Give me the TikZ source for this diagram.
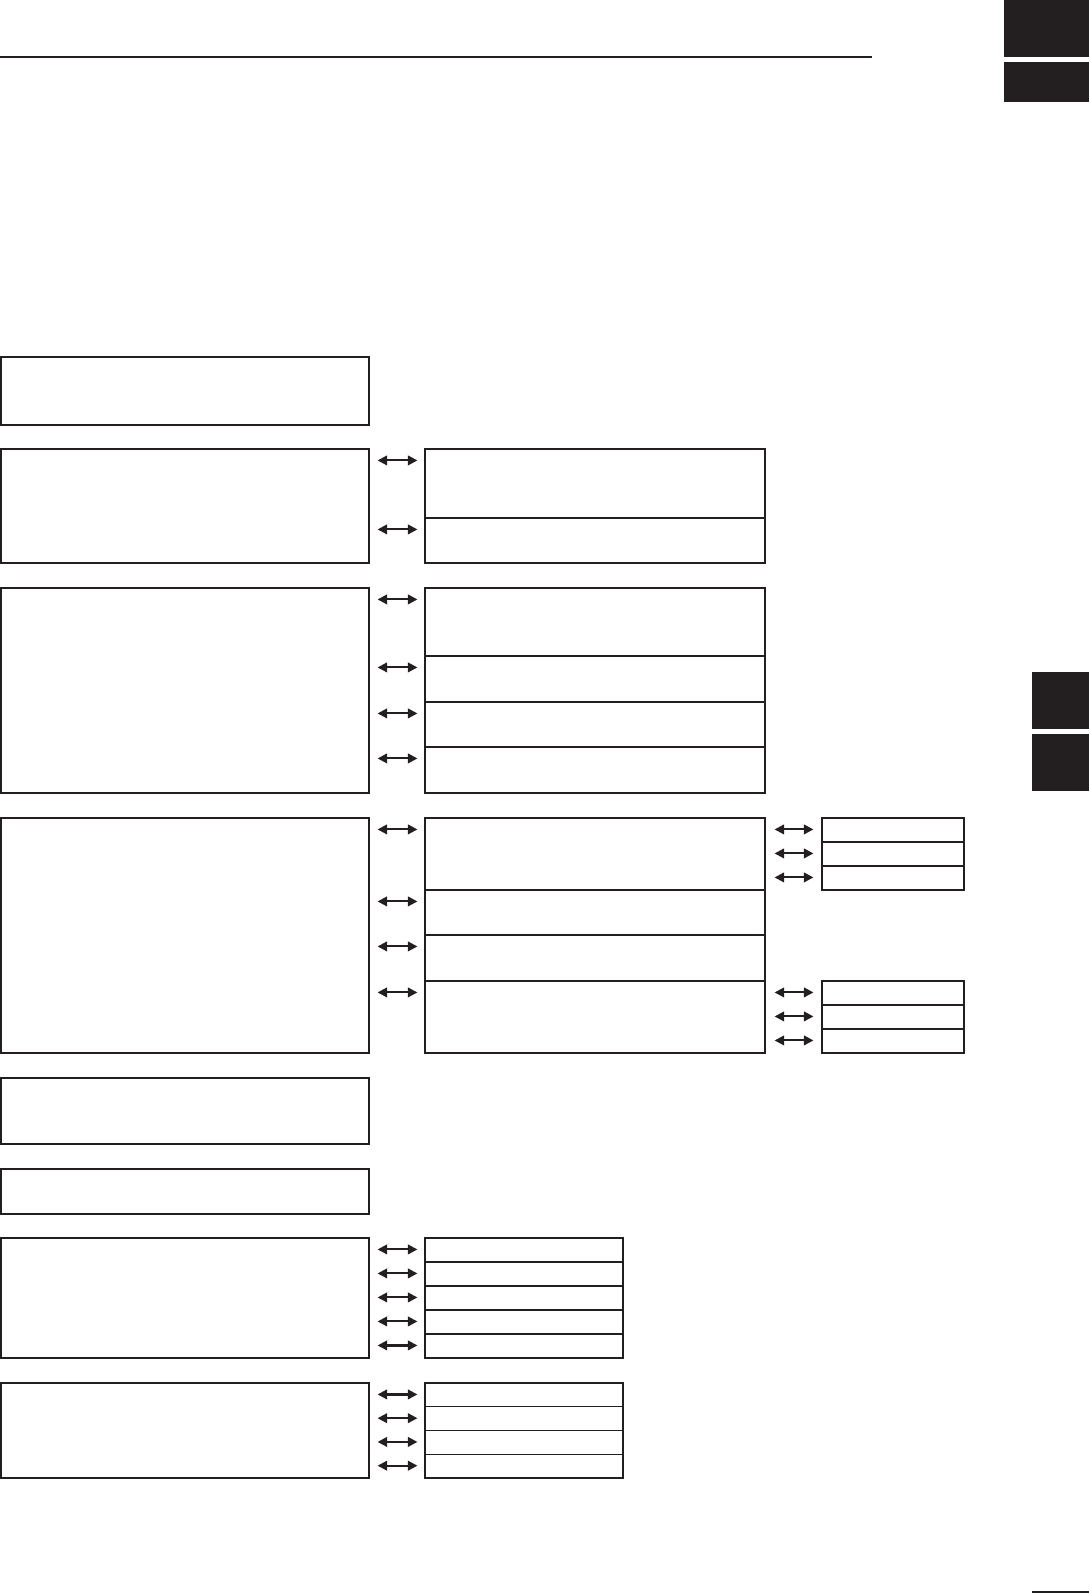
\documentclass[tikz,border=0pt]{standalone}
\usepackage{tikz}
\usetikzlibrary{arrows.meta,fit,calc}
\definecolor{ink}{HTML}{231F20}
\tikzset{
  box/.style={draw=ink,line width=0.65pt,inner sep=0pt},
  tab/.style={fill=ink},
  link/.style={{Triangle[length=5.5pt,width=5.5pt]}-{Triangle[length=5.5pt,width=5.5pt]},
               line width=1.2pt,ink},
}

\begin{document}
\begin{tikzpicture}[x=0.02cm,y=-0.02cm]
  \useasboundingbox (0,0) rectangle (1089,1594);
  % Header rule and tabs
  \draw[ink,line width=1.1pt](0,57)--(872,57);
  \fill[tab](1004,0)rectangle(1089,57);
  \fill[tab](1004,62)rectangle(1089,102);
  \fill[tab](1032,672)rectangle(1089,729);
  \fill[tab](1032,734)rectangle(1089,791);
  \draw[ink,line width=1pt](1032,1592)--(1089,1592);
  % Left column
  \node[box,fit={(1,357)(369,425)}] (l1) {};
  \node[box,fit={(1,449)(369,563)}] (l2) {};
  \node[box,fit={(1,588)(369,793)}] (l3) {};
  \node[box,fit={(1,818)(369,1053)}] (l4) {};
  \node[box,fit={(1,1078)(369,1144)}] (l5) {};
  \node[box,fit={(1,1169)(369,1214)}] (l6) {};
  \node[box,fit={(1,1238)(369,1358)}] (l7) {};
  \node[box,fit={(1,1383)(369,1478)}] (l8) {};
  % Middle column
  \node[box,fit={(425,449)(765,518)}] (m2a) {};
  \node[box,fit={(425,518)(765,563)}] (m2b) {};
  \node[box,fit={(425,588)(765,656)}] (m3a) {};
  \node[box,fit={(425,656)(765,702)}] (m3b) {};
  \node[box,fit={(425,702)(765,747)}] (m3c) {};
  \node[box,fit={(425,747)(765,793)}] (m3d) {};
  \node[box,fit={(425,818)(765,890)}] (m4a) {};
  \node[box,fit={(425,890)(765,935)}] (m4b) {};
  \node[box,fit={(425,935)(765,981)}] (m4c) {};
  \node[box,fit={(425,981)(765,1053)}] (m4d) {};
  \foreach \i in {0,...,4}
    \node[box,fit={(425,{1238+24*\i})(623,{1262+24*\i})}] (m7\i) {};
  \foreach \i in {0,...,3}
    \node[box,fit={(425,{1383+23.75*\i})(623,{1406.75+23.75*\i})}] (m8\i) {};
  % Right column
  \foreach \i in {0,1,2}{
    \node[box,fit={(822,{818+24*\i})(964,{842+24*\i})}] (ra\i) {};
    \node[box,fit={(822,{981+24*\i})(964,{1005+24*\i})}] (rb\i) {};
  }
  % Links
  \foreach \l/\m in {l2/m2a,l2/m2b,l3/m3a,l3/m3b,l3/m3c,l3/m3d,
                     l4/m4a,l4/m4b,l4/m4c,l4/m4d,
                     l7/m70,l7/m71,l7/m72,l7/m73,l7/m74,
                     l8/m80,l8/m81,l8/m82,l8/m83}
    \draw[link]($(\m.north west)+(-7,12)$)--($(\l.east |- \m.north west)+(8,12)$);
  \foreach \m/\r in {m4a/ra0,m4a/ra1,m4a/ra2,m4d/rb0,m4d/rb1,m4d/rb2}
    \draw[link]($(\r.north west)+(-8,12)$)--($(\m.east |- \r.north west)+(9,12)$);
\end{tikzpicture}
\end{document}
